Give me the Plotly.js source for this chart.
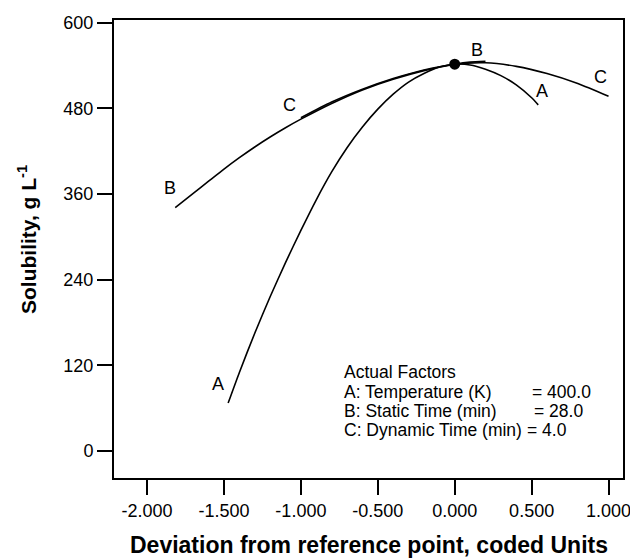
<!DOCTYPE html>
<html>
<head>
<meta charset="utf-8">
<script src="https://cdn.plot.ly/plotly-3.0.1.min.js"></script>
<style>html,body{margin:0;padding:0;background:#fff;}#chart{width:630px;height:558px;}</style>
</head>
<body>
<div id="chart"></div>
<script>
// Curve A: Temperature
const aX = [-1.473, -1.40, -1.30, -1.20, -1.10, -1.00, -0.90, -0.80, -0.70, -0.60, -0.50, -0.40, -0.30, -0.20, -0.10, 0.00, 0.10, 0.20, 0.30, 0.40, 0.50, 0.543];
const aY = [67, 110, 165, 216, 264, 309, 352, 391, 425, 454, 479, 500, 517, 529, 538, 542, 541, 535, 526, 513, 495, 485];
// Curve B: Static Time
const bX = [-1.817, -1.70, -1.60, -1.50, -1.40, -1.30, -1.20, -1.10, -1.00, -0.80, -0.60, -0.40, -0.20, 0.00, 0.10, 0.20];
const bY = [341, 361, 378, 395, 411, 426, 440, 453, 465, 487, 506, 521, 533, 542, 545, 546];
// Curve C: Dynamic Time
const cX = [-1.00, -0.80, -0.60, -0.40, -0.20, 0.00, 0.20, 0.40, 0.60, 0.80, 1.00];
const cY = [467, 489, 507, 522, 534, 542, 544, 539, 529, 515, 497];
// Reference point
const refX = [0];
const refY = [542];
// Axis ticks
const xTicks = [-2.0, -1.5, -1.0, -0.5, 0.0, 0.5, 1.0];
const xTickText = ["-2.000", "-1.500", "-1.000", "-0.500", "0.000", "0.500", "1.000"];
const yTicks = [0, 120, 240, 360, 480, 600];
// Factor box text
const factorTitle = "Actual Factors";
const factorNames = ["A: Temperature (K)", "B: Static Time (min)", "C: Dynamic Time (min)"];
const factorValues = ["= 400.0", "= 28.0", "= 4.0"];

const FONT = "Liberation Sans, Arial, Helvetica, sans-serif";
const line = {color: "#000", width: 1.6, shape: "spline", smoothing: 0.6};

const traces = [
  {x: aX, y: aY, mode: "lines", line: line, hoverinfo: "skip"},
  {x: bX, y: bY, mode: "lines", line: line, hoverinfo: "skip"},
  {x: cX, y: cY, mode: "lines", line: line, hoverinfo: "skip"},
  {x: refX, y: refY, mode: "markers", marker: {color: "#000", size: 11}, hoverinfo: "skip"}
];

const lblFont = {family: FONT, size: 18, color: "#000"};
const curveLabels = [
  {x: -1.538, y: 94, text: "A"},
  {x: -1.850, y: 369, text: "B"},
  {x: -1.076, y: 485, text: "C"},
  {x: 0.146, y: 562, text: "B"},
  {x: 0.569, y: 505, text: "A"},
  {x: 0.946, y: 524, text: "C"}
].map(a => Object.assign({xref: "x", yref: "y", showarrow: false, xanchor: "center", yanchor: "middle", font: lblFont}, a));

const boxFont = {family: FONT, size: 17.5, color: "#000"};
const toPy = py => (478 - py) / 458;
const toPx = px => (px - 114) / 509;
const lineYs = [392, 411, 430];
const eqXs = [530, 532, 525];
const extraAnn = [
  {xref: "paper", yref: "paper", x: toPx(342), y: toPy(372), text: factorTitle, showarrow: false, xanchor: "left", yanchor: "middle", font: boxFont},
  {xref: "paper", yref: "paper", x: toPx(27), y: toPy(240), text: "<b>Solubility, g L<sup>-1</sup></b>", textangle: -90, showarrow: false, xanchor: "center", yanchor: "middle", font: {family: FONT, size: 21, color: "#000"}},
  {xref: "paper", yref: "paper", x: toPx(369), y: toPy(545), text: "<b>Deviation from reference point, coded Units</b>", showarrow: false, xanchor: "center", yanchor: "middle", font: {family: FONT, size: 23, color: "#000"}}
];
factorNames.forEach((t, i) => {
  extraAnn.push({xref: "paper", yref: "paper", x: toPx(342), y: toPy(lineYs[i]), text: t, showarrow: false, xanchor: "left", yanchor: "middle", font: boxFont});
  extraAnn.push({xref: "paper", yref: "paper", x: toPx(eqXs[i]), y: toPy(lineYs[i]), text: factorValues[i], showarrow: false, xanchor: "left", yanchor: "middle", font: boxFont});
});

const layout = {
  width: 630, height: 558,
  margin: {l: 114, r: 7, t: 20, b: 80},
  paper_bgcolor: "#fff", plot_bgcolor: "#fff",
  showlegend: false,
  xaxis: {
    range: [-2.215, 1.094], tickvals: xTicks, ticktext: xTickText,
    ticks: "outside", ticklen: 15, tickwidth: 2, tickcolor: "#000",
    showline: true, linewidth: 2, linecolor: "#000", mirror: true,
    showgrid: false, zeroline: false, ticklabeloverflow: "allow",
    tickfont: {family: FONT, size: 18, color: "#000"}
  },
  yaxis: {
    range: [-38, 604], tickvals: yTicks,
    ticks: "outside", ticklen: 15, tickwidth: 2, tickcolor: "#000",
    showline: true, linewidth: 2, linecolor: "#000", mirror: true,
    showgrid: false, zeroline: false, ticklabeloverflow: "allow",
    tickfont: {family: FONT, size: 18, color: "#000"}
  },
  annotations: curveLabels.concat(extraAnn)
};

Plotly.newPlot("chart", traces, layout, {staticPlot: true, displayModeBar: false});
</script>
</body>
</html>
